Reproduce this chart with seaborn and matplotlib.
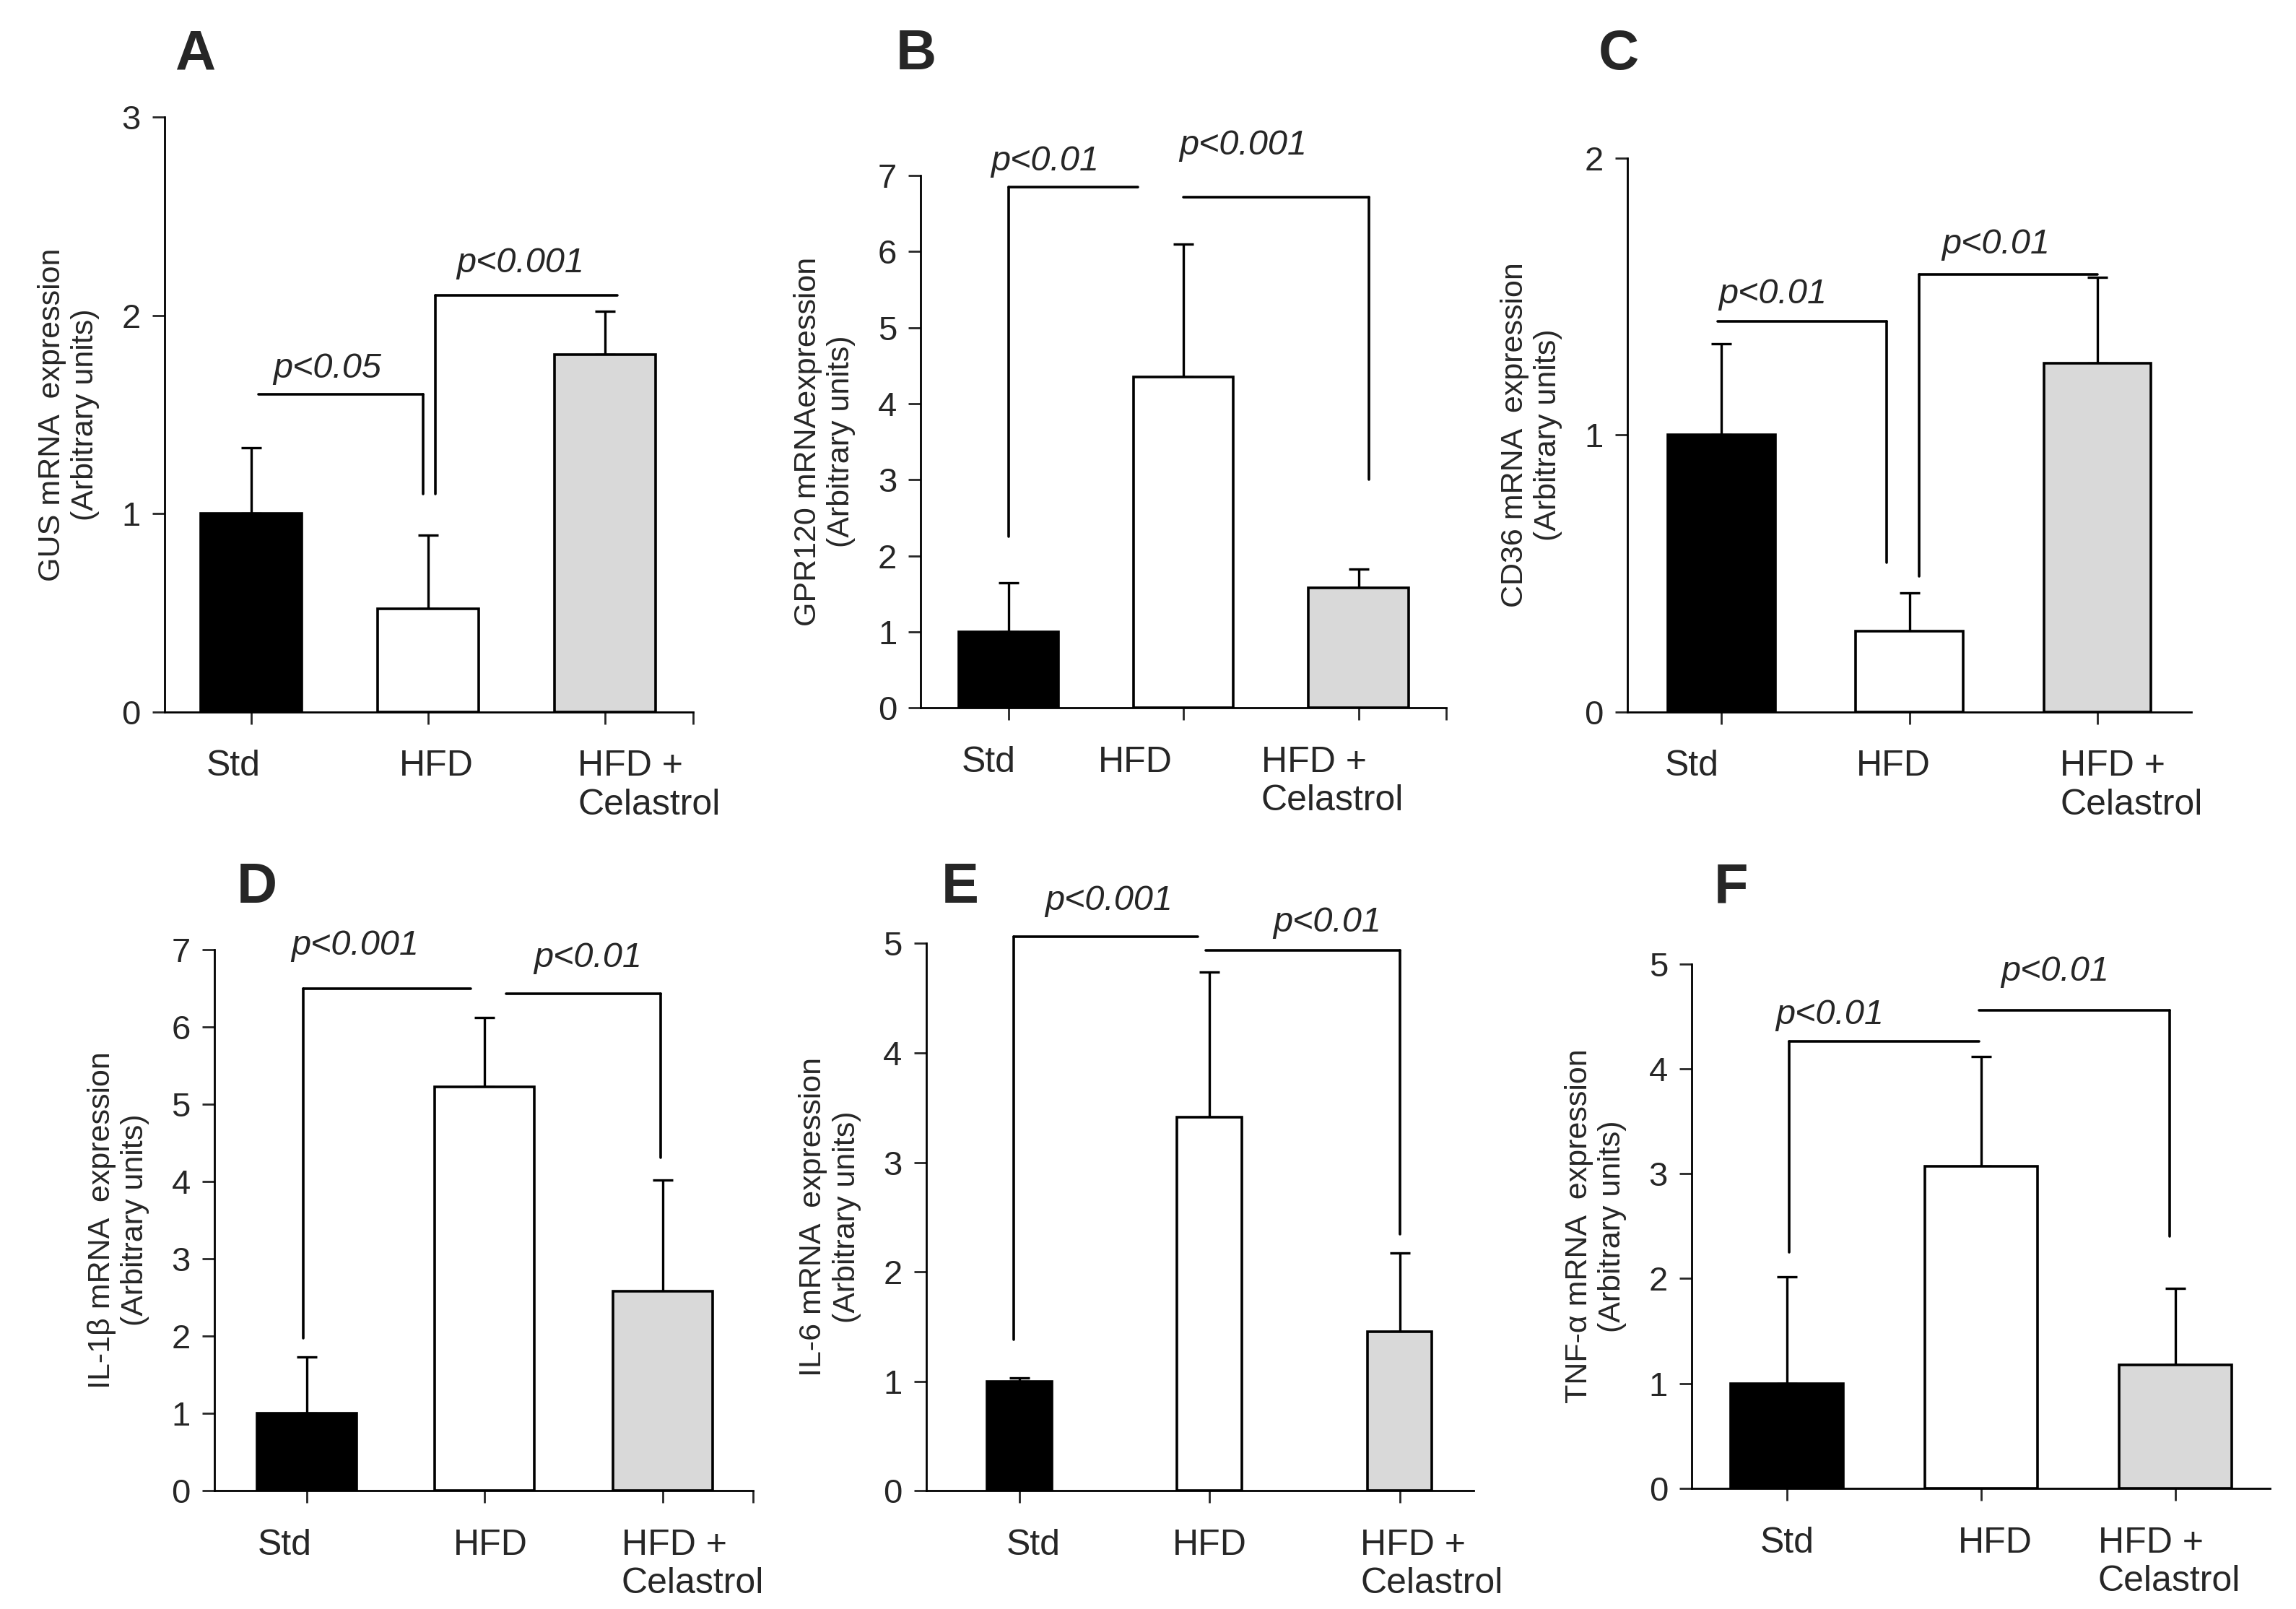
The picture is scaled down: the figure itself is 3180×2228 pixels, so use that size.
import numpy as np
import matplotlib
matplotlib.use("Agg")
import matplotlib.pyplot as plt
import matplotlib.transforms as mtransforms
import seaborn as sns

# groups and bar colours
groups = ["Std", "HFD", "HFD +\nCelastrol"]
bar_colors = ["#000000", "#ffffff", "#d9d9d9"]

# mean and upper error
gus_mean = [1.0, 0.52, 1.80]
gus_err = [0.33, 0.37, 0.22]
gpr120_mean = [1.0, 4.35, 1.58]
gpr120_err = [0.65, 1.75, 0.25]
cd36_mean = [1.0, 0.29, 1.26]
cd36_err = [0.33, 0.14, 0.31]
il1b_mean = [1.0, 5.22, 2.58]
il1b_err = [0.73, 0.90, 1.44]
il6_mean = [1.0, 3.41, 1.45]
il6_err = [0.03, 1.33, 0.72]
tnfa_mean = [1.0, 3.07, 1.18]
tnfa_err = [1.02, 1.05, 0.73]

ylabels = [
    "GUS mRNA  expression\n(Arbitrary units)",
    "GPR120 mRNAexpression\n(Arbitrary units)",
    "CD36 mRNA  expression\n(Arbitrary units)",
    "IL-1\u03b2 mRNA  expression\n(Arbitrary units)",
    "IL-6 mRNA  expression\n(Arbitrary units)",
    "TNF-\u03b1 mRNA  expression\n(Arbitrary units)",
]
letters = ["A", "B", "C", "D", "E", "F"]
ymax = [3, 7, 2, 7, 5, 5]

# significance brackets: x0, x1, y, left leg bottom, right leg bottom, text, text x, text y
brackets = [
    [(0.04, 0.97, 1.60, None, 1.10, "p<0.05", 0.43, 1.65),
     (1.04, 2.07, 2.10, 1.10, None, "p<0.001", 1.52, 2.18)],
    [(0.00, 0.74, 6.85, 2.25, None, "p<0.01", 0.21, 6.97),
     (1.00, 2.06, 6.72, None, 3.00, "p<0.001", 1.34, 7.18)],
    [(-0.02, 0.88, 1.41, None, 0.54, "p<0.01", 0.27, 1.45),
     (1.05, 2.00, 1.58, 0.49, None, "p<0.01", 1.46, 1.63)],
    [(-0.02, 0.92, 6.49, 1.97, None, "p<0.001", 0.27, 6.84),
     (1.12, 1.99, 6.43, None, 4.31, "p<0.01", 1.58, 6.68)],
    [(-0.03, 0.94, 5.06, 1.38, None, "p<0.001", 0.47, 5.24),
     (0.98, 2.00, 4.94, None, 2.34, "p<0.01", 1.62, 5.04)],
    [(0.01, 0.99, 4.26, 2.25, None, "p<0.01", 0.22, 4.36),
     (0.99, 1.97, 4.56, None, 2.40, "p<0.01", 1.38, 4.77)],
]

sns.set_style("ticks")
plt.rcParams["font.family"] = ["Liberation Sans", "DejaVu Sans"]

fig = plt.figure(figsize=(15.9, 11.14), dpi=200)

# axes rectangles [left, bottom, width, height]
rects = [
    [0.0717, 0.5576, 0.2303, 0.3697],
    [0.4011, 0.5600, 0.2287, 0.3309],
    [0.7089, 0.5576, 0.2455, 0.3442],
    [0.0934, 0.0736, 0.2347, 0.3364],
    [0.4034, 0.0736, 0.2385, 0.3400],
    [0.7369, 0.0750, 0.2519, 0.3259],
]
xlims = [(-0.49, 2.50), (-0.50, 2.50), (-0.50, 2.50), (-0.52, 2.51), (-0.49, 2.39), (-0.49, 2.49)]
widths = [0.57, 0.57, 0.57, 0.56, 0.34, 0.58]
end_tick = [True, True, False, True, False, False]
# horizontal nudges of the x tick labels (points)
label_shift = [(-9, 4, 22), (-10, -24, -13), (-15, -8, 17),
               (-11, 3, 15), (7, 0, 16), (0, 7, -3)]
letter_pos = [(0.085, 0.966), (0.399, 0.966), (0.705, 0.966),
              (0.112, 0.448), (0.418, 0.448), (0.754, 0.448)]

means = [gus_mean, gpr120_mean, cd36_mean, il1b_mean, il6_mean, tnfa_mean]
errs = [gus_err, gpr120_err, cd36_err, il1b_err, il6_err, tnfa_err]

for i in range(6):
    ax = fig.add_axes(rects[i])
    sns.barplot(x=groups, y=means[i], hue=groups, palette=bar_colors,
                legend=False, width=widths[i], edgecolor="black",
                linewidth=1.3, saturation=1, errorbar=None, ax=ax, zorder=3)
    ax.errorbar(range(3), means[i], yerr=[np.zeros(3), errs[i]], fmt="none",
                ecolor="black", elinewidth=1.2, capsize=5, capthick=1.2, zorder=2)

    ax.set_xlim(xlims[i])
    ax.set_ylim(0, ymax[i])
    ax.set_yticks(range(ymax[i] + 1))
    ax.set_xticks(range(3))
    ax.set_xticklabels(groups, multialignment="left")
    if end_tick[i]:
        ax.set_xticks([xlims[i][1]], minor=True)
    ax.set_xlabel("")
    ax.set_ylabel(ylabels[i], fontsize=15.5, labelpad=11)
    ax.tick_params(axis="x", which="both", labelsize=18, length=6, width=1, pad=13, direction="out")
    ax.tick_params(axis="y", labelsize=17, length=6, width=1, pad=6, direction="out")
    sns.despine(ax=ax)
    for s in ["left", "bottom"]:
        ax.spines[s].set_linewidth(1.0)
        ax.spines[s].set_color("black")

    for lab, dx in zip(ax.get_xticklabels(), label_shift[i]):
        lab.set_transform(lab.get_transform() +
                          mtransforms.ScaledTranslation(dx / 72, 0, fig.dpi_scale_trans))

    for x0, x1, y, yl, yr, txt, tx, ty in brackets[i]:
        ax.plot([x0, x1], [y, y], color="black", lw=1.3, clip_on=False)
        if yl is not None:
            ax.plot([x0, x0], [yl, y], color="black", lw=1.3, clip_on=False)
        if yr is not None:
            ax.plot([x1, x1], [yr, y], color="black", lw=1.3, clip_on=False)
        ax.text(tx, ty, txt, style="italic", fontsize=17.5, ha="center", va="bottom")

    fig.text(letter_pos[i][0], letter_pos[i][1], letters[i], fontsize=28,
             fontweight="bold", ha="center", va="center")

fig.savefig("out.png", dpi=200, facecolor="white")
